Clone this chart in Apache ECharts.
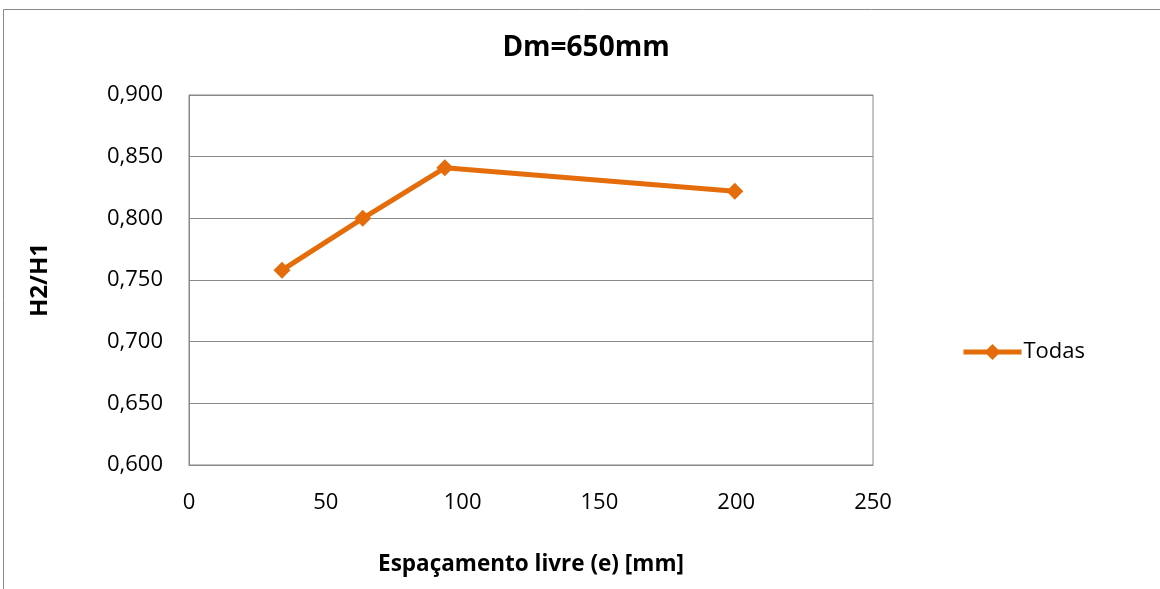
<!DOCTYPE html>
<html>
<head>
<meta charset="utf-8">
<script src="https://cdn.jsdelivr.net/npm/echarts@6/dist/echarts.min.js"></script>
<style>html,body{margin:0;padding:0;background:#fff;}#c{width:1160px;height:589px;}</style>
</head>
<body>
<div id="c"></div>
<script>
const xValues = [34, 63.5, 93.5, 199.5];
const yValues = [0.758, 0.800, 0.841, 0.822];
const seriesName = 'Todas';
const titleText = 'Dm=650mm';
const xTitle = 'Espaçamento livre (e) [mm]';
const yTitle = 'H2/H1';
const FONT = '"Open Sans", sans-serif';
const ORANGE = '#E46C0A';

const chart = echarts.init(document.getElementById('c'));
chart.setOption({
  animation: false,
  backgroundColor: '#fff',
  graphic: [{
    type: 'rect', shape: {x: 3.5, y: 9.5, width: 1300, height: 700},
    style: {fill: 'none', stroke: '#8a8a8a', lineWidth: 1}, silent: true
  }],
  title: {
    text: titleText, left: 581, top: 29, textAlign: 'center',
    textStyle: {fontFamily: FONT, fontSize: 28, fontWeight: 'bold', color: '#000'}
  },
  legend: {
    data: [seriesName], left: 956, top: 336, itemWidth: 58, itemHeight: 20, itemGap: 0,
    lineStyle: {width: 5},
    textStyle: {fontFamily: FONT, fontSize: 22, color: '#000', padding: [0,0,0,-3]}
  },
  grid: {left: 189, right: 287, top: 95, bottom: 124, show: true, borderColor: '#888', borderWidth: 1},
  xAxis: {
    type: 'value', min: 0, max: 250, interval: 50,
    name: xTitle, nameLocation: 'middle', nameGap: 88,
    nameTextStyle: {fontFamily: FONT, fontSize: 22.5, fontWeight: 'bold', color: '#000'},
    axisLine: {show: true, lineStyle: {color: '#888'}},
    axisTick: {show: false},
    splitLine: {show: false},
    axisLabel: {fontFamily: FONT, fontSize: 22, color: '#000', margin: 27}
  },
  yAxis: {
    type: 'value', min: 0.6, max: 0.9, interval: 0.05,
    name: yTitle, nameLocation: 'middle', nameGap: 137, nameRotate: 90,
    nameTextStyle: {fontFamily: FONT, fontSize: 24, fontWeight: 'bold', color: '#000'},
    axisLine: {show: true, lineStyle: {color: '#888'}},
    axisTick: {show: false},
    splitLine: {show: true, lineStyle: {color: '#888', width: 1}},
    axisLabel: {fontFamily: FONT, fontSize: 22, color: '#000', margin: 26,
      formatter: v => v.toFixed(3).replace('.', ',')}
  },
  series: [{
    name: seriesName, type: 'line',
    data: xValues.map((x, i) => [x, yValues[i]]),
    symbol: 'diamond', symbolSize: 17,
    itemStyle: {color: ORANGE},
    lineStyle: {color: ORANGE, width: 5}
  }]
});
</script>
</body>
</html>
